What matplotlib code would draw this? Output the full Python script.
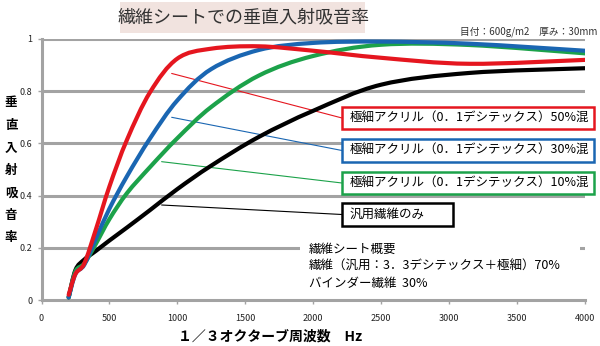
import matplotlib
matplotlib.use('Agg')
import matplotlib.pyplot as plt
import matplotlib.patches as patches
from matplotlib.path import Path
import numpy as np

plt.rcParams['font.family'] = ['Noto Sans CJK JP', 'DejaVu Sans']

# 1/3オクターブ周波数 (Hz)
freq = [200, 250, 315, 400, 500, 630, 800, 1000, 1250, 1600, 2000, 2500, 3150, 4000]

# 垂直入射吸音率
red_50 = [0.02, 0.10, 0.14, 0.27, 0.435, 0.615, 0.797, 0.925, 0.963, 0.972, 0.955, 0.928, 0.905, 0.92]
blue_30 = [0.01, 0.10, 0.135, 0.235, 0.35, 0.475, 0.62, 0.765, 0.885, 0.958, 0.985, 0.99, 0.982, 0.955]
green_10 = [0.01, 0.11, 0.14, 0.215, 0.31, 0.41, 0.51, 0.62, 0.74, 0.86, 0.935, 0.978, 0.977, 0.945]
black_only = [0.01, 0.115, 0.155, 0.188, 0.228, 0.278, 0.345, 0.425, 0.515, 0.625, 0.725, 0.825, 0.87, 0.888]

W, H = 600, 346


def fx(px):
    return px / W


def fy(py):
    return 1 - py / H


def smooth_path(xs, ys, sx=544 / 4000, sy=261):
    # Excelの「スムージング」風のベジェ曲線 (データ点はそのまま通る)
    p = np.column_stack([np.array(xs) * sx, np.array(ys) * sy])
    n = len(p)
    verts = [p[0]]
    codes = [Path.MOVETO]
    for i in range(n - 1):
        p0 = p[max(i - 1, 0)]
        p1 = p[i]
        p2 = p[i + 1]
        p3 = p[min(i + 2, n - 1)]
        c1 = p1 + (p2 - p0) / 6
        c2 = p2 - (p3 - p1) / 6
        verts += [c1, c2, p2]
        codes += [Path.CURVE4] * 3
    verts = np.array(verts) / [sx, sy]
    return Path(verts, codes)


fig = plt.figure(figsize=(6, 3.46), dpi=100)
ax = fig.add_axes([fx(41.5), fy(300), fx(585) - fx(41.5), fy(39) - fy(300)])

grid_col = '#a3a3a3'
ax.set_xlim(0, 4000)
ax.set_ylim(0, 1)
ax.set_yticks([0, 0.2, 0.4, 0.6, 0.8, 1])
ax.set_yticklabels(['0', '0.2', '0.4', '0.6', '0.8', '1'])
ax.set_xticks(range(0, 4001, 500))
for y in [0.2, 0.4, 0.6, 0.8, 1.0]:
    ax.axhline(y, color=grid_col, lw=2.2, zorder=1)
for s in ['top', 'right']:
    ax.spines[s].set_visible(False)
for s in ['left', 'bottom']:
    ax.spines[s].set_color(grid_col)
    ax.spines[s].set_linewidth(2.2)
ax.tick_params(axis='both', colors=grid_col, length=3, width=1, labelsize=6.5, labelcolor='#222222')
ax.tick_params(axis='x', pad=7)

series = [
    (black_only, '#000000', 3),
    (green_10, '#1ca24a', 4),
    (blue_30, '#1a66b2', 5),
    (red_50, '#e5161f', 6),
]
for vals, col, z in series:
    ax.add_patch(patches.PathPatch(smooth_path(freq, vals), fc='none', ec=col, lw=3,
                                   capstyle='round', joinstyle='round', zorder=z))

# タイトル
fig.patches.append(patches.Rectangle((fx(120), fy(33)), fx(365) - fx(120), fy(2) - fy(33),
                                     transform=fig.transFigure, fc='#f1e3df', ec='none'))
fig.text(fx(243), fy(17), '繊維シートでの垂直入射吸音率', ha='center', va='center',
         fontsize=13, color='#333333')
fig.text(fx(597), fy(32), '目付：600g/m2　厚み：30mm', ha='right', va='center',
         fontsize=7, color='#333333')

# 軸ラベル
for i, ch in enumerate('垂直入射吸音率'):
    fig.text(fx(11), fy(103 + i * 22.5), ch, ha='center', va='center', fontsize=9,
             fontweight='bold')
fig.text(fx(270), fy(337), '１／３オクターブ周波数　Hz', ha='center', va='center',
         fontsize=10, fontweight='bold')

# 凡例ボックス
legend_items = [
    ('極細アクリル（0．1デシテックス）50%混', '#e5161f', 107, 129, 594, (958, 0.868)),
    ('極細アクリル（0．1デシテックス）30%混', '#1a66b2', 139, 162, 594, (958, 0.70)),
    ('極細アクリル（0．1デシテックス）10%混', '#1ca24a', 172, 194, 594, (884, 0.53)),
    ('汎用繊維のみ', '#000000', 203, 226, 453, (884, 0.364)),
]
for label, col, top, bot, right, start in legend_items:
    mid = (top + bot) / 2
    ax.annotate('', xy=start, xycoords='data', xytext=(fx(342), fy(mid)),
                textcoords='figure fraction',
                arrowprops=dict(arrowstyle='-', color=col, lw=0.8, shrinkA=0, shrinkB=0),
                zorder=2)
    fig.patches.append(patches.Rectangle((fx(342), fy(bot)), fx(right) - fx(342), fy(top) - fy(bot),
                                         transform=fig.transFigure, fc='white', ec=col, lw=1.8,
                                         zorder=5))
    fig.text(fx(350), fy(mid), label, ha='left', va='center', fontsize=9, zorder=6)

# 概要
fig.patches.append(patches.Rectangle((fx(300), fy(290)), fx(580) - fx(300), fy(240) - fy(290),
                                     transform=fig.transFigure, fc='white', ec='none', zorder=3))
fig.text(fx(309), fy(249), '繊維シート概要', ha='left', va='center', fontsize=9)
fig.add_artist(plt.Line2D([fx(309), fx(399)], [fy(257), fy(257)], color='black', lw=0.8))
fig.text(fx(309), fy(266), '繊維（汎用：3．3デシテックス＋極細）70%', ha='left', va='center', fontsize=9)
fig.text(fx(309), fy(283), 'バインダー繊維  30%', ha='left', va='center', fontsize=9)

fig.savefig('out.png', dpi=100)
